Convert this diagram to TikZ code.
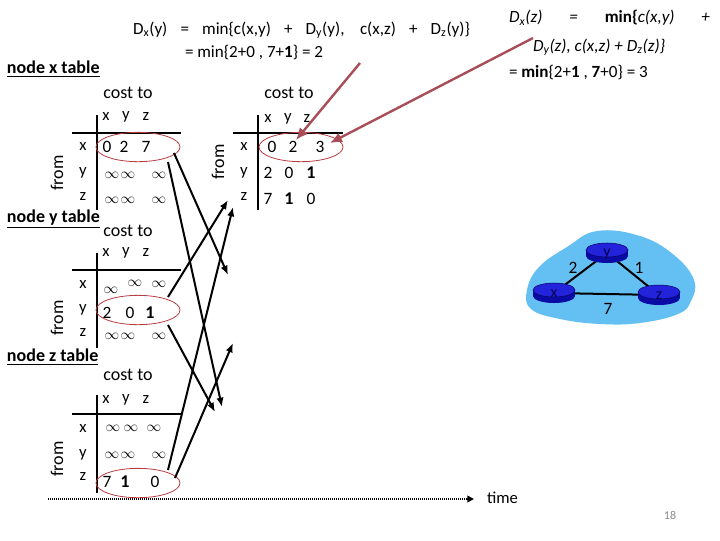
\documentclass[tikz,border=0pt]{standalone}
\usepackage{fontspec}
\setmainfont{Carlito}
\usetikzlibrary{arrows.meta,shapes.geometric}
\definecolor{ellred}{RGB}{185,60,65}
\definecolor{arrred}{RGB}{168,78,88}
\definecolor{blobblue}{RGB}{100,192,242}
\definecolor{rbody}{RGB}{10,10,165}
\definecolor{rtop}{RGB}{35,35,220}
\definecolor{pnum}{RGB}{140,140,140}
\newcommand{\inff}{$\infty$}
\begin{document}
\begin{tikzpicture}[x=0.75pt,y=-0.75pt,
  every node/.style={inner sep=0pt, outer sep=0pt},
  lbl/.style={font=\fontsize{13.5}{16}\selectfont},
  ttl/.style={font=\fontsize{13.5}{16}\selectfont\bfseries, anchor=west},
  frm/.style={font=\fontsize{13.5}{16}\selectfont, rotate=90},
  hd/.style={font=\fontsize{12.5}{14}\selectfont},
  vl/.style={font=\fontsize{13}{14}\selectfont},
  vb/.style={font=\fontsize{13.5}{14}\selectfont\bfseries},
  inf/.style={font=\fontsize{10.5}{12}\selectfont},
  fml/.style={font=\fontsize{12.8}{15}\selectfont, anchor=west},
  rule/.style={line width=0.8pt},
  oval/.style={ellipse, draw=ellred, line width=0.6pt, minimum width=63pt, minimum height=22pt},
  blk/.style={line width=1.5pt, -{Latex[length=7pt,width=5.5pt]}},
  rarr/.style={draw=arrred, line width=1.8pt, -{Latex[length=9pt,width=8pt]}},
  link/.style={line width=1.5pt}
]
\useasboundingbox (0,0) rectangle (720,540);

% ---------- formulas ----------
\node[fml] (f1) at (133,30) {\makebox[252.75pt][s]{D\textsubscript{x}(y) = min\{c(x,y) + D\textsubscript{y}(y), c(x,z) + D\textsubscript{z}(y)\}}};
\node[fml] (f2) at (185,52) {= min\{2+0 , 7+\textbf{1}\} = 2};
\node[fml] (g1) at (509,18) {\itshape\makebox[150.75pt][s]{D\textsubscript{x}(z) = \upshape\bfseries min\{\mdseries\itshape c(x,y) +}};
\node[fml] (g2) at (533,47) {\itshape D\textsubscript{y}(z), c(x,z) + D\textsubscript{z}(z)\}};
\node[fml] (g3) at (509,72) {= \textbf{min}\{2+\textbf{1} , \textbf{7}+0\} = 3};

% ---------- node x table ----------
\node[ttl] (tx) at (7,69) {\underline{node x table}};
\node[lbl] (cx1) at (128,93) {cost to};
\node[hd] at (106,117) {x}; \node[hd] at (126,117) {y}; \node[hd] at (146,117) {z};
\draw[rule] (97,115) -- (97,210);
\draw[rule] (72,133) -- (181,133);
\node[frm] at (57,173) {from};
\node[hd] at (83,147) {x}; \node[hd] at (83,173) {y}; \node[hd] at (83,197) {z};
\node[vl] at (107,147) {0}; \node[vl] at (124,147) {2}; \node[vl] at (146,147) {7};
\node[inf] at (112,175) {\inff}; \node[inf] at (128,175) {\inff}; \node[inf] at (159,175) {\inff};
\node[inf] at (112,200) {\inff}; \node[inf] at (128,200) {\inff}; \node[inf] at (159,200) {\inff};
\node[oval] (ex) at (138,147) {};

% ---------- second x table ----------
\node[lbl] (cx2) at (289,93) {cost to};
\node[hd] at (268,119) {x}; \node[hd] at (288,119) {y}; \node[hd] at (307,119) {z};
\draw[rule] (258,115) -- (258,210);
\draw[rule] (233,133) -- (343,133);
\node[frm] at (218,162) {from};
\node[hd] at (244,147) {x}; \node[hd] at (244,173) {y}; \node[hd] at (244,197) {z};
\node[vl] at (272,147) {0}; \node[vl] at (293,147) {2}; \node[vl] at (320,147) {3};
\node[vl] at (268,173) {2}; \node[vl] at (289,173) {0}; \node[vb] at (311,173) {1};
\node[vl] at (268,199) {7}; \node[vb] at (289,199) {1}; \node[vl] at (311,199) {0};
\node[oval] (ex2) at (301,147) {};

% ---------- node y table ----------
\node[ttl] (ty) at (7,219) {\underline{node y table}};
\node[lbl] (cy1) at (128,231) {cost to};
\node[hd] at (106,253) {x}; \node[hd] at (126,253) {y}; \node[hd] at (146,253) {z};
\draw[rule] (97,253) -- (97,348);
\draw[rule] (72,270) -- (181,270);
\node[frm] at (57,318) {from};
\node[hd] at (83,285) {x}; \node[hd] at (83,310) {y}; \node[hd] at (83,333) {z};
\node[inf] at (111,290) {\inff}; \node[inf] at (135,283) {\inff}; \node[inf] at (159,284) {\inff};
\node[vl] at (107,313) {2}; \node[vl] at (130,313) {0}; \node[vb] at (150,313) {1};
\node[inf] at (112,336) {\inff}; \node[inf] at (128,336) {\inff}; \node[inf] at (159,336) {\inff};
\node[oval] (ey) at (138,310) {};

% ---------- node z table ----------
\node[ttl] (tz) at (7,357) {\underline{node z table}};
\node[lbl] (cz1) at (128,375) {cost to};
\node[hd] at (106,400) {x}; \node[hd] at (126,400) {y}; \node[hd] at (146,400) {z};
\draw[rule] (97,395) -- (97,493);
\draw[rule] (72,414) -- (182,414);
\node[frm] at (57,459) {from};
\node[hd] at (83,429) {x}; \node[hd] at (83,455) {y}; \node[hd] at (83,477) {z};
\node[inf] at (113,428) {\inff}; \node[inf] at (131,428) {\inff}; \node[inf] at (154,428) {\inff};
\node[inf] at (112,455) {\inff}; \node[inf] at (128,455) {\inff}; \node[inf] at (159,455) {\inff};
\node[vl] at (107,482) {7}; \node[vb] at (125,482) {1}; \node[vl] at (155,482) {0};
\node[oval] (ez) at (138,483) {};

% ---------- message arrows ----------
\coordinate (xa) at (174,153); \coordinate (xb) at (168,162);
\coordinate (ya) at (168,297); \coordinate (yb) at (168,325);
\coordinate (za) at (168,470); \coordinate (zb) at (175,478);
\coordinate (ty1) at (228,275); \coordinate (tz1) at (222,407);
\coordinate (tx1) at (228,200); \coordinate (tz2) at (215,412);
\coordinate (tx2) at (233,207); \coordinate (ty2) at (233,343);
\draw[blk] (xa) -- (ty1);
\draw[blk] (xb) -- (tz1);
\draw[blk] (ya) -- (tx1);
\draw[blk] (yb) -- (tz2);
\draw[blk] (za) -- (tx2);
\draw[blk] (zb) -- (ty2);

% ---------- red pointers ----------
\coordinate (r1s) at (360,63); \coordinate (r1e) at (296,140);
\coordinate (r2s) at (533,38); \coordinate (r2e) at (330,143);
\draw[rarr] (r1s) -- (r1e);
\draw[rarr] (r2s) -- (r2e);

% ---------- time axis ----------
\coordinate (tl) at (48,499);
\coordinate (tr) at (474,499);
\draw[line width=1.3pt, dash pattern=on 0.7pt off 0.8pt] (tl) -- (468,499);
\draw[line width=1.3pt, -{Triangle[length=5pt,width=5pt]}] (467,499) -- (tr);
\node[font=\fontsize{12.5}{15}\selectfont, anchor=west] (time) at (487,498) {time};
\node[font=\fontsize{9}{11}\selectfont, text=pnum] (pg) at (670,515) {18};

% ---------- network ----------
\fill[blobblue] plot[smooth cycle, tension=0.7] coordinates {
  (597,231) (640,236) (674,255) (694,280) (691,301) (678,314) (640,323)
  (600,324) (560,319) (531,309) (527,290) (539,267) (567,247)};
\coordinate (nx) at (554,293);
\coordinate (ny) at (607,253);
\coordinate (nz) at (659,295);
\draw[link] (nx) -- (ny) -- (nz) -- (nx);
\foreach \cx/\cy in {554/293, 607/253, 659/295} {
  \fill[rbody] (\cx-21,\cy-3) rectangle (\cx+21,\cy+3);
  \fill[rbody] (\cx,\cy+3) ellipse [x radius=21, y radius=7];
  \fill[rtop] (\cx,\cy-3) ellipse [x radius=21, y radius=7];
  \draw[rbody!60!black, line width=0.4pt] (\cx,\cy-3) ellipse [x radius=21, y radius=7];
}
\node[font=\fontsize{12}{14}\selectfont, text=rbody!50!black] (rx) at (554,294) {x};
\node[font=\fontsize{12}{14}\selectfont, text=rbody!50!black] (ry) at (607,254) {y};
\node[font=\fontsize{12}{14}\selectfont, text=rbody!50!black] (rz) at (659,296) {z};
\node[font=\fontsize{13}{15}\selectfont] (l2) at (573,268) {2};
\node[font=\fontsize{13}{15}\selectfont] (l1) at (639,268) {1};
\node[font=\fontsize{13}{15}\selectfont] (l7) at (608,309) {7};
\end{tikzpicture}
\end{document}
